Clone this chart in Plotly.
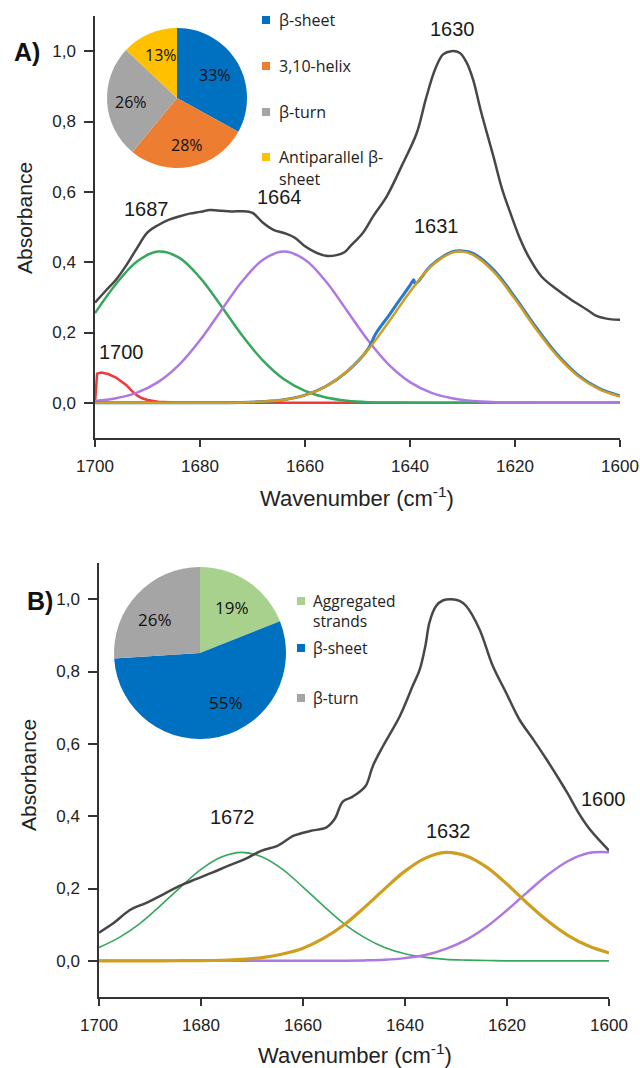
import plotly.graph_objects as go

W, H = 640, 1068


def px(x):
    return x / W


def py(y):
    return 1 - y / H


# ---------------- Panel A data ----------------
wn_a_meas = [1700, 1698, 1696, 1694, 1692, 1690, 1688, 1686, 1684, 1682, 1680, 1678, 1676,
             1674, 1672, 1670, 1668, 1666, 1664, 1662, 1660, 1658, 1656, 1654, 1652.5, 1651.4,
             1649, 1647, 1644.4, 1641.6, 1638.7, 1637, 1635.2, 1633.7, 1632.1, 1630.5, 1629.3,
             1628, 1626.5, 1624.1, 1622.5, 1621, 1619, 1617.5, 1615, 1612, 1609.3, 1606,
             1604.6, 1602, 1600]
abs_a_meas = [0.285, 0.318, 0.35, 0.392, 0.44, 0.485, 0.505, 0.52, 0.53, 0.538, 0.543, 0.548,
              0.546, 0.544, 0.545, 0.54, 0.512, 0.492, 0.483, 0.47, 0.445, 0.428, 0.418, 0.42,
              0.428, 0.445, 0.483, 0.531, 0.588, 0.673, 0.768, 0.863, 0.949, 0.991, 1.0, 0.995,
              0.97, 0.92, 0.83, 0.70, 0.61, 0.545, 0.465, 0.418, 0.36, 0.322, 0.293, 0.262,
              0.248, 0.238, 0.236]

wn_a_grid = [1700, 1696, 1692, 1688, 1684, 1680, 1676, 1672, 1668, 1664, 1660, 1656, 1652,
             1648, 1644, 1640, 1636, 1632, 1628, 1624, 1620, 1616, 1612, 1608, 1604, 1600]
abs_a_1687 = [0.255, 0.338, 0.402, 0.430, 0.413, 0.356, 0.276, 0.192, 0.120, 0.067, 0.034,
              0.015, 0.006, 0.002, 0.001, 0, 0, 0, 0, 0, 0, 0, 0, 0, 0, 0]
abs_a_1664 = [0.005, 0.013, 0.029, 0.059, 0.108, 0.178, 0.262, 0.345, 0.407, 0.430, 0.407,
              0.345, 0.262, 0.178, 0.108, 0.059, 0.029, 0.013, 0.005, 0.002, 0.001, 0, 0, 0,
              0, 0]

wn_a_1631 = [1700, 1680, 1676, 1672, 1668, 1664, 1660, 1656, 1652, 1648, 1644, 1640, 1636,
             1632, 1630, 1628, 1624, 1620, 1616, 1612, 1608, 1604, 1600]
abs_a_1631 = [0, 0, 0.0003, 0.001, 0.0035, 0.009, 0.022, 0.047, 0.089, 0.151, 0.231, 0.316,
              0.388, 0.427, 0.430, 0.421, 0.372, 0.295, 0.210, 0.134, 0.076, 0.039, 0.018]

wn_a_sheet = [1700, 1680, 1672, 1668, 1664, 1660, 1656, 1652, 1648, 1646.5, 1644, 1642, 1640,
              1639.3, 1639.0, 1636, 1632, 1630, 1628, 1624, 1620, 1616, 1612, 1608, 1604, 1600]
abs_a_sheet = [0, 0, 0.001, 0.0035, 0.009, 0.022, 0.047, 0.089, 0.153, 0.197, 0.249, 0.292,
               0.334, 0.350, 0.338, 0.390, 0.429, 0.432, 0.425, 0.377, 0.300, 0.215, 0.138,
               0.079, 0.041, 0.020]

wn_a_1700 = [1700, 1699.6, 1698.8, 1697.5, 1696, 1695, 1694, 1693, 1692, 1691, 1690, 1688,
             1685, 1680, 1600]
abs_a_1700 = [0.0, 0.083, 0.086, 0.082, 0.072, 0.062, 0.050, 0.034, 0.021, 0.013, 0.008,
              0.003, 0.001, 0.0, 0.0]

pie_a_labels = ["β-sheet", "3,10-helix", "β-turn", "Antiparallel β-sheet"]
pie_a_values = [33, 28, 26, 13]
pie_a_colors = ["#0070C0", "#ED7D31", "#A5A5A5", "#FFC000"]
legend_a_lines = [["β-sheet"], ["3,10-helix"], ["β-turn"], ["Antiparallel β-", "sheet"]]
peak_a_labels = ["1630", "1687", "1664", "1631", "1700"]

# ---------------- Panel B data ----------------
wn_b_meas = [1700, 1697, 1694, 1690.6, 1687.4, 1684.2, 1681, 1677.8, 1674.6, 1671.4, 1668.2,
             1665, 1661.8, 1658.6, 1655.4, 1653.8, 1652.2, 1650.5, 1649.5, 1647.7, 1646.3,
             1644.3, 1641, 1638.5, 1637.1, 1636, 1635.2, 1633.9, 1632.5, 1630.9, 1629.3, 1628,
             1625.4, 1622.8, 1620.2, 1617.6, 1614.9, 1612.3, 1609.7, 1608, 1606, 1604, 1602,
             1600]
abs_b_meas = [0.078, 0.106, 0.14, 0.161, 0.184, 0.207, 0.226, 0.244, 0.263, 0.281, 0.304,
              0.318, 0.346, 0.359, 0.369, 0.392, 0.44, 0.452, 0.461, 0.484, 0.539, 0.594,
              0.677, 0.76, 0.806, 0.871, 0.936, 0.981, 0.997, 1.0, 0.995, 0.981, 0.917, 0.816,
              0.742, 0.668, 0.613, 0.558, 0.50, 0.46, 0.41, 0.368, 0.335, 0.305]

wn_b_grid = [1700, 1696, 1692, 1688, 1684, 1680, 1676, 1672, 1668, 1664, 1660, 1656, 1652,
             1648, 1644, 1640, 1636, 1632, 1628, 1624, 1620, 1616, 1612, 1608, 1604, 1600]
abs_b_1672 = [0.037, 0.065, 0.103, 0.152, 0.204, 0.253, 0.287, 0.300, 0.287, 0.253, 0.204,
              0.152, 0.103, 0.065, 0.037, 0.0196, 0.0095, 0.004, 0.002, 0.001, 0, 0, 0, 0, 0, 0]
abs_b_1632 = [0, 0, 0, 0, 0.0003, 0.0006, 0.0016, 0.004, 0.009, 0.019, 0.035, 0.062, 0.099,
              0.147, 0.199, 0.248, 0.284, 0.300, 0.290, 0.259, 0.212, 0.159, 0.110, 0.070,
              0.041, 0.022]
abs_b_1600 = [0, 0, 0, 0, 0, 0, 0, 0, 0, 0, 0, 0.0001, 0.0004, 0.0012, 0.003, 0.0075, 0.016,
              0.033, 0.058, 0.094, 0.140, 0.190, 0.238, 0.276, 0.298, 0.300]

pie_b_labels = ["Aggregated strands", "β-sheet", "β-turn"]
pie_b_values = [19, 55, 26]
pie_b_colors = ["#A9D18E", "#0070C0", "#A5A5A5"]
legend_b_lines = [["Aggregated", "strands"], ["β-sheet"], ["β-turn"]]
peak_b_labels = ["1631", "1672", "1632", "1600"]

x_ticks = [1700, 1680, 1660, 1640, 1620, 1600]
y_ticks = [0.0, 0.2, 0.4, 0.6, 0.8, 1.0]
y_tick_text = ["0,0", "0,2", "0,4", "0,6", "0,8", "1,0"]

# ---------------- colours ----------------
C_MEAS = "#474747"
C_GREEN = "#36A75C"
C_PURPLE = "#AE78E4"
C_GOLD = "#CF9E1E"
C_BLUE = "#2679D2"
C_RED = "#F03A3A"

FONT = "Liberation Sans, Arial, sans-serif"
LFONT = "Open Sans, Noto Sans, sans-serif"

fig = go.Figure()


def line(x, y, color, width, xa, ya, shape="spline"):
    fig.add_trace(go.Scatter(x=x, y=y, mode="lines", xaxis=xa, yaxis=ya,
                             line=dict(color=color, width=width, shape=shape),
                             showlegend=False, hoverinfo="skip"))


# Panel A traces
line(wn_a_1700, abs_a_1700, C_RED, 2.5, "x", "y", shape="linear")
line(wn_a_grid, abs_a_1687, C_GREEN, 2.5, "x", "y")
line(wn_a_grid, abs_a_1664, C_PURPLE, 2.5, "x", "y")
line(wn_a_sheet, abs_a_sheet, C_BLUE, 3, "x", "y")
line(wn_a_1631, abs_a_1631, C_GOLD, 2.5, "x", "y")
line(wn_a_meas, abs_a_meas, C_MEAS, 2.5, "x", "y")

# Panel B traces
line(wn_b_grid, abs_b_1672, C_GREEN, 1.6, "x2", "y2")
line(wn_b_grid, abs_b_1600, C_PURPLE, 2.5, "x2", "y2")
line(wn_b_grid, abs_b_1632, C_GOLD, 3.2, "x2", "y2")
line(wn_b_meas, abs_b_meas, C_MEAS, 2.5, "x2", "y2")

# Pies (percent labels drawn as annotations below)
fig.add_trace(go.Pie(labels=pie_a_labels, values=pie_a_values, sort=False,
                     direction="clockwise", rotation=0,
                     marker=dict(colors=pie_a_colors, line=dict(width=0)),
                     textinfo="none",
                     domain=dict(x=[px(107), px(247)], y=[py(168), py(28)]),
                     showlegend=False, hoverinfo="skip"))
fig.add_trace(go.Pie(labels=pie_b_labels, values=pie_b_values, sort=False,
                     direction="clockwise", rotation=0,
                     marker=dict(colors=pie_b_colors, line=dict(width=0)),
                     textinfo="none",
                     domain=dict(x=[px(114), px(286)], y=[py(739), py(567)]),
                     showlegend=False, hoverinfo="skip"))

axis_common = dict(showline=True, linecolor="#333", linewidth=1.5, ticks="outside",
                   tickcolor="#333", tickwidth=1.5, showgrid=False, zeroline=False,
                   automargin=False, ticklabelstandoff=5,
                   tickfont=dict(family=FONT, size=17, color="#222"))

fig.update_layout(
    template="none",
    width=W, height=H, margin=dict(l=0, r=0, t=0, b=0, pad=0), autosize=False,
    paper_bgcolor="white", plot_bgcolor="white", showlegend=False,
    xaxis=dict(domain=[px(95), px(620)], range=[1700, 1600], tickvals=x_ticks,
               ticklen=7, anchor="y", **axis_common),
    yaxis=dict(domain=[py(438), py(16)], range=[-0.1, 1.1], tickvals=y_ticks,
               ticktext=y_tick_text, ticklen=9, anchor="x", **axis_common),
    xaxis2=dict(domain=[px(99), px(609)], range=[1700, 1600], tickvals=x_ticks,
                ticklen=7, anchor="y2", **axis_common),
    yaxis2=dict(domain=[py(997), py(563)], range=[-0.1, 1.1], tickvals=y_ticks,
                ticktext=y_tick_text, ticklen=9, anchor="x2", **axis_common),
)

ann = []


def text(x, y, s, size, xanchor="center", family=FONT, color="#222", bold=False,
         angle=0, xref="paper", yref="paper"):
    if bold:
        s = "<b>" + s + "</b>"
    ann.append(dict(x=x, y=y, xref=xref, yref=yref, text=s, showarrow=False,
                    xanchor=xanchor, yanchor="middle", textangle=angle,
                    font=dict(family=family, size=size, color=color)))


# Panel labels
text(px(27), py(52), "A)", 25, bold=True, color="#111")
text(px(40), py(601), "B)", 25, bold=True, color="#111")

# Axis titles
text(px(25), py(218), "Absorbance", 21, angle=-90)
text(px(28), py(775), "Absorbance", 21, angle=-90)
text(px(357), py(497), "Wavenumber (cm<sup>-1</sup>)", 22)
text(px(355), py(1054), "Wavenumber (cm<sup>-1</sup>)", 22)

# Peak labels (data coordinates)
peak_a_pos = [(1632.0, 1.063), (1690.1, 0.550), (1664.8, 0.584), (1634.9, 0.504),
              (1694.9, 0.145)]
for lab, (xx, yy) in zip(peak_a_labels, peak_a_pos):
    text(xx, yy, lab, 20, xref="x", yref="y", color="#1a1a1a")
peak_b_pos = [(1630.9, 1.102), (1673.8, 0.397), (1631.5, 0.359), (1601.0, 0.447)]
for lab, (xx, yy) in zip(peak_b_labels, peak_b_pos):
    text(xx, yy, lab, 20, xref="x2", yref="y2", color="#1a1a1a")

# Pie percentage labels
pie_a_text_pos = [(215, 75), (187, 145), (131, 102), (161, 55)]
for v, (xx, yy) in zip(pie_a_values, pie_a_text_pos):
    text(px(xx), py(yy), f"{v}%", 16, family=LFONT, color="#111")
pie_b_text_pos = [(232, 607), (226, 702), (155, 619)]
for v, (xx, yy) in zip(pie_b_values, pie_b_text_pos):
    text(px(xx), py(yy), f"{v}%", 17, family=LFONT, color="#111")

# Legends (custom)
shapes = []
legend_a_rows = [20, 66, 112, 157]
for color, lines_, yc in zip(pie_a_colors, legend_a_lines, legend_a_rows):
    shapes.append(dict(type="rect", xref="paper", yref="paper", x0=px(262), x1=px(270),
                       y0=py(yc + 4), y1=py(yc - 4), fillcolor=color, line=dict(width=0)))
    for i, s in enumerate(lines_):
        text(px(277), py(yc + i * 22), s, 16, xanchor="left", family=LFONT, color="#222")

legend_b_rows = [601, 648, 698]
for color, lines_, yc in zip(pie_b_colors, legend_b_lines, legend_b_rows):
    shapes.append(dict(type="rect", xref="paper", yref="paper", x0=px(297), x1=px(305),
                       y0=py(yc + 4), y1=py(yc - 4), fillcolor=color, line=dict(width=0)))
    for i, s in enumerate(lines_):
        text(px(311), py(yc + i * 20), s, 15.5, xanchor="left", family=LFONT, color="#222")

fig.update_layout(annotations=ann, shapes=shapes)

fig.write_html("out.html", config={"displayModeBar": False},
               post_script="document.body.style.margin='0px';")
